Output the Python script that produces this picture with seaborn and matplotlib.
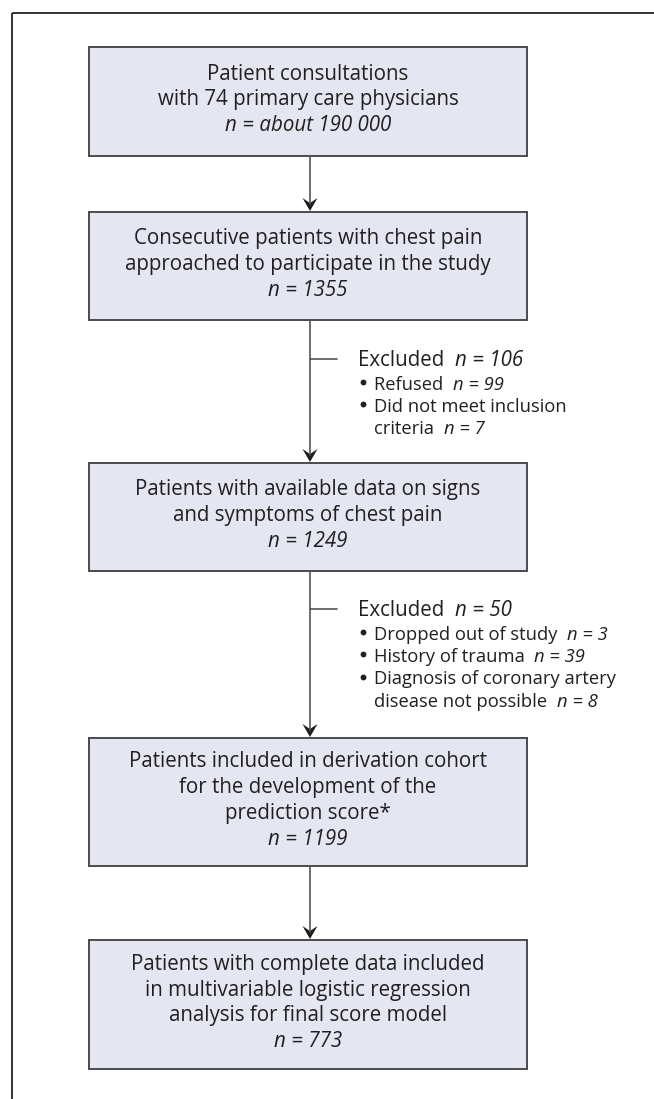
import matplotlib.pyplot as plt
import seaborn as sns
from matplotlib.patches import Rectangle, Polygon

# Flow chart of patient selection (derivation cohort)

box_lines = [
    ["Patient consultations", "with 74 primary care physicians"],
    ["Consecutive patients with chest pain", "approached to participate in the study"],
    ["Patients with available data on signs", "and symptoms of chest pain"],
    ["Patients included in derivation cohort", "for the development of the", "prediction score*"],
    ["Patients with complete data included", "in multivariable logistic regression",
     "analysis for final score model"],
]
box_n = ["n = about 190 000", "n = 1355", "n = 1249", "n = 1199", "n = 773"]

excl_total = ["n = 106", "n = 50"]
excl_items = [
    [("Refused", "n = 99"), ("Did not meet inclusion|criteria", "n = 7")],
    [("Dropped out of study", "n = 3"), ("History of trauma", "n = 39"),
     ("Diagnosis of coronary artery|disease not possible", "n = 8")],
]

# layout (pixels)
W, H = 654, 1099
box_x0, box_x1 = 89, 527
box_top = [47, 212, 463, 738, 940]
box_bot = [156, 320, 571, 866, 1069]
line_gap = 25.8
arrow_x = 310
excl_y = [358, 608]
excl_x = 358
bullet_x = 359
item_x = 374
item_gap = 22.5

fill = "#e4e6f1"
edge = "#4a4a4a"
ink = "#231f20"

sns.set_theme(style="white")
plt.rcParams["font.family"] = ["Open Sans", "DejaVu Sans"]

fig = plt.figure(figsize=(W / 100, H / 100), dpi=100)
ax = fig.add_axes([0, 0, 1, 1])
ax.set_xlim(0, W)
ax.set_ylim(H, 0)
ax.axis("off")

# outer frame (top and left only)
ax.plot([12, W], [13, 13], color="#333333", lw=1.4, solid_capstyle="butt")
ax.plot([12, 12], [13, H], color="#333333", lw=1.4, solid_capstyle="butt")

fs_box = 14.8
fs_item = 13.2


def arrow(y0, y1):
    ax.plot([arrow_x, arrow_x], [y0, y1 - 7], color="#555555", lw=1.2)
    ax.add_patch(Polygon([(arrow_x, y1), (arrow_x - 7.5, y1 - 13), (arrow_x, y1 - 8),
                          (arrow_x + 7.5, y1 - 13)], closed=True, color="#1e1e1e", lw=0))


for i, lines in enumerate(box_lines):
    top, bot = box_top[i], box_bot[i]
    ax.add_patch(Rectangle((box_x0, top), box_x1 - box_x0, bot - top,
                           facecolor=fill, edgecolor=edge, lw=1.4))
    all_lines = lines + [box_n[i]]
    cy = (top + bot) / 2 - 4
    y0 = cy - line_gap * (len(all_lines) - 1) / 2
    cx = (box_x0 + box_x1) / 2
    for j, s in enumerate(all_lines):
        ax.text(cx, y0 + j * line_gap, s, ha="center", va="center_baseline",
                fontsize=fs_box, color=ink,
                style="italic" if j == len(all_lines) - 1 else "normal")
    if i < len(box_lines) - 1:
        arrow(bot, box_top[i + 1] - 1)


def mixed(x, y, plain, ital, fs):
    t = ax.text(x, y, plain + "  ", ha="left", va="center_baseline", fontsize=fs, color=ink)
    ax.annotate(ital, xy=(1, 0), xycoords=t, ha="left", va="bottom",
                fontsize=fs, color=ink, style="italic")


for k in range(2):
    y = excl_y[k]
    ax.plot([arrow_x, arrow_x + 27], [y + 1, y + 1], color="#555555", lw=1.2)
    mixed(excl_x, y, "Excluded", excl_total[k], fs_box)
    yy = y + 24.5
    for label, n in excl_items[k]:
        parts = label.split("|")
        ax.plot(bullet_x + 3.5, yy - 1, "o", ms=4.2, color=ink, mew=0)
        for p in parts[:-1]:
            ax.text(item_x, yy, p, ha="left", va="center_baseline", fontsize=fs_item, color=ink)
            yy += item_gap
        mixed(item_x, yy, parts[-1], n, fs_item)
        yy += item_gap

fig.savefig("out.png", dpi=100)
